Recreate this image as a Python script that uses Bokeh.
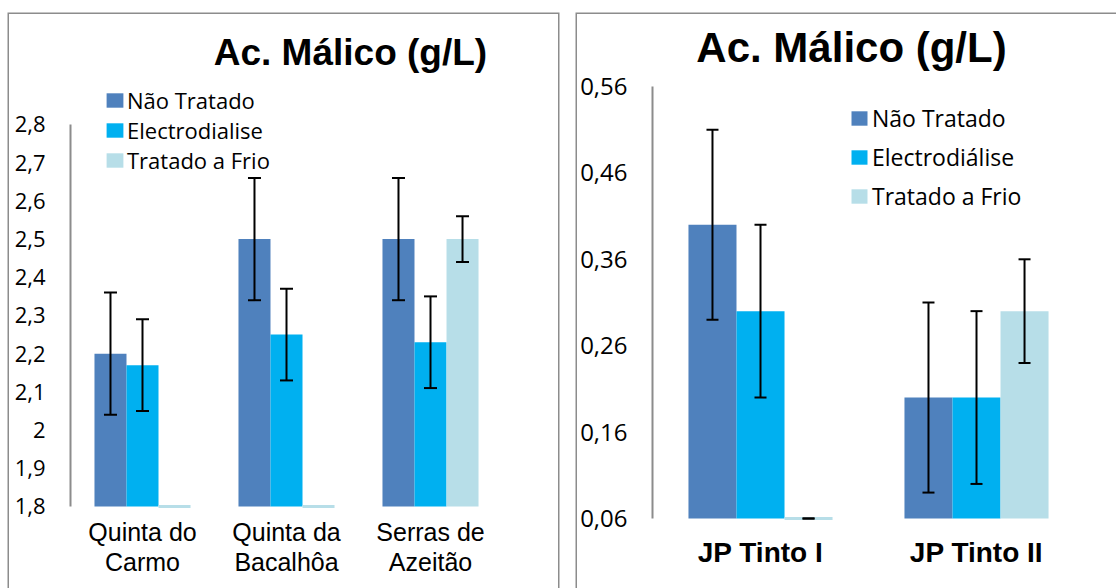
from bokeh.plotting import figure
from bokeh.models import (Range1d, LinearAxis, FixedTicker, ColumnDataSource, Whisker, TeeHead,
                          Legend, LegendItem, Label, BoxAnnotation)
from bokeh.layouts import row
from bokeh.embed import file_html
from bokeh.resources import INLINE

# ---------------- data ----------------
colors = ["#4F81BD", "#00B0F0", "#B7DEE8"]

left_series = ["Não Tratado", "Electrodialise", "Tratado a Frio"]
left_categories = ["Quinta do\nCarmo", "Quinta da\nBacalhôa", "Serras de\nAzeitão"]
left_nao_tratado = [2.20, 2.50, 2.50]
left_nao_tratado_err = [0.16, 0.16, 0.16]
left_electrodialise = [2.17, 2.25, 2.23]
left_electrodialise_err = [0.12, 0.12, 0.12]
left_tratado_frio = [0.0, 0.0, 2.50]
left_tratado_frio_err = [0.0, 0.0, 0.06]
left_ticks = [1.8, 1.9, 2.0, 2.1, 2.2, 2.3, 2.4, 2.5, 2.6, 2.7, 2.8]
left_tick_labels = ["1,8", "1,9", "2", "2,1", "2,2", "2,3", "2,4", "2,5", "2,6", "2,7", "2,8"]

right_series = ["Não Tratado", "Electrodiálise", "Tratado a Frio"]
right_categories = ["JP Tinto I", "JP Tinto II"]
right_nao_tratado = [0.40, 0.20]
right_nao_tratado_err = [0.11, 0.11]
right_electrodialise = [0.30, 0.20]
right_electrodialise_err = [0.10, 0.10]
right_tratado_frio = [0.0, 0.30]
right_tratado_frio_err = [0.01, 0.06]
right_ticks = [0.06, 0.16, 0.26, 0.36, 0.46, 0.56]
right_tick_labels = ["0,06", "0,16", "0,26", "0,36", "0,46", "0,56"]

title_text = "Ac. Málico (g/L)"


def build(width, height, border_left, border_right, x_range, y_range, categories, series,
          values, errors, ticks, tick_labels, cfg):
    p = figure(width=width, height=height, x_range=x_range, y_range=y_range,
               x_axis_type=None, y_axis_type=None, output_backend="svg", toolbar_location=None,
               min_border_left=border_left, min_border_right=border_right,
               min_border_top=12, min_border_bottom=0)
    p.outline_line_color = None
    p.background_fill_color = "white"
    p.border_fill_color = "white"
    p.xgrid.visible = False
    p.ygrid.visible = False

    base = ticks[0]
    n_ser = len(series)
    bar_w = cfg["group"] / n_ser
    renderers = []
    for j in range(n_ser):
        off = (j - (n_ser - 1) / 2) * bar_w
        xs = [i + 0.5 + off for i in range(len(categories))]
        vals = values[j]
        errs = errors[j]
        src = ColumnDataSource(dict(x=xs, top=[max(v, base) for v in vals]))
        r = p.vbar(x="x", top="top", bottom=base, width=bar_w, source=src,
                   fill_color=colors[j], line_color=None)
        renderers.append(r)
        stub = [k for k, v in enumerate(vals) if v < base]
        if stub:
            ssrc = ColumnDataSource(dict(x=[xs[k] for k in stub], top=[base for k in stub]))
            p.vbar(x="x", top="top", bottom=base, width=bar_w, source=ssrc,
                   fill_color=colors[j], line_color=colors[j], line_width=3)
        ek = [k for k, e in enumerate(errs) if e > 0]
        if ek:
            esrc = ColumnDataSource(dict(
                x=[xs[k] for k in ek],
                upper=[max(vals[k] + errs[k], base) for k in ek],
                lower=[max(vals[k] - errs[k], base) for k in ek]))
            w = Whisker(source=esrc, base="x", upper="upper", lower="lower",
                        line_color="black", line_width=2, level="overlay",
                        upper_head=TeeHead(size=cfg["cap"], line_color="black", line_width=2),
                        lower_head=TeeHead(size=cfg["cap"], line_color="black", line_width=2))
            p.add_layout(w)

    yax = LinearAxis(ticker=FixedTicker(ticks=ticks), fixed_location=0,
                     bounds=(ticks[0], ticks[-1]),
                     axis_line_color="#8c8c8c", axis_line_width=2,
                     major_tick_line_color=None, minor_tick_line_color=None,
                     major_tick_out=0, major_tick_in=0, major_label_standoff=25,
                     major_label_text_font="Open Sans",
                     major_label_text_font_size=cfg["tick_fs"],
                     major_label_text_color="black",
                     major_label_overrides=dict(zip(ticks, tick_labels)))
    p.add_layout(yax, "left")

    cat_ticks = [i + 0.5 for i in range(len(categories))]
    xax = LinearAxis(ticker=FixedTicker(ticks=cat_ticks), fixed_location=base,
                     axis_line_color=None, major_tick_line_color=None,
                     minor_tick_line_color=None, major_tick_out=0, major_tick_in=0,
                     major_label_standoff=cfg["xstand"],
                     major_label_text_font="Liberation Sans",
                     major_label_text_font_style=cfg["xstyle"],
                     major_label_text_font_size=cfg["xfs"],
                     major_label_text_line_height=cfg["xlh"],
                     major_label_text_color="black",
                     major_label_overrides=dict(zip(cat_ticks, categories)))
    p.add_layout(xax, "below")

    legend = Legend(items=[LegendItem(label=s, renderers=[r]) for s, r in zip(series, renderers)],
                    location=cfg["leg_loc"], orientation="vertical",
                    border_line_color=None, background_fill_alpha=0, padding=0, margin=0,
                    spacing=cfg["leg_sp"], glyph_width=cfg["gw"], glyph_height=cfg["gh"],
                    label_standoff=cfg["leg_so"], label_text_font="Open Sans",
                    label_text_color="black",
                    label_text_font_size=cfg["leg_fs"], label_height=cfg["lh"])
    p.add_layout(legend)

    p.add_layout(Label(x=cfg["title_x"], y=cfg["title_y"], text=title_text,
                       text_font="Liberation Sans", text_font_style="bold",
                       text_font_size=cfg["title_fs"], text_align="center",
                       text_baseline="alphabetic", text_color="black"))

    box_kw = dict(bottom=y_range.start - 1, fill_alpha=0, line_color="#8c8c8c",
                  line_alpha=1.0, line_width=3)
    if cfg.get("open_right"):
        box_kw["right"] = x_range.end + 1
    p.add_layout(BoxAnnotation(**box_kw))
    return p


left_cfg = dict(group=0.667, cap=13, tick_fs="22px", xstand=12, xstyle="normal", xfs="25px",
                xlh=1.05,
                leg_loc=(97, 413), leg_sp=0, gw=21, gh=18, leg_so=2, leg_fs="22px", lh=26,
                title_x=1.944, title_y=2.988, title_fs="37px")
right_cfg = dict(group=0.667, cap=12, tick_fs="24px", xstand=19, xstyle="bold", xfs="28px",
                 xlh=1.0,
                 leg_loc=(274, 376), leg_sp=7, gw=20, gh=18, leg_so=3, leg_fs="23px", lh=32,
                 title_x=0.9213, title_y=0.6055, title_fs="42px", open_right=True)

p_left = build(567, 588, 7, 8, Range1d(-0.4375, 3.3958), Range1d(1.5853, 3.0932),
               left_categories, left_series,
               [left_nao_tratado, left_electrodialise, left_tratado_frio],
               [left_nao_tratado_err, left_electrodialise_err, left_tratado_frio_err],
               left_ticks, left_tick_labels, left_cfg)
p_right = build(549, 588, 8, 0, Range1d(-0.3565, 2.1481), Range1d(-0.02102, 0.64565),
                right_categories, right_series,
                [right_nao_tratado, right_electrodialise, right_tratado_frio],
                [right_nao_tratado_err, right_electrodialise_err, right_tratado_frio_err],
                right_ticks, right_tick_labels, right_cfg)

layout = row(p_left, p_right, spacing=0)
open("out.html", "w").write(file_html(layout, INLINE))
